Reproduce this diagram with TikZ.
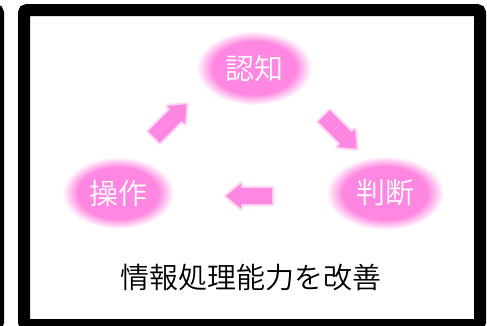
\documentclass[tikz,border=0pt]{standalone}
\usepackage{fontspec}
\setmainfont{Noto Sans CJK JP}[UprightFont = * DemiLight]
\usetikzlibrary{shapes.geometric,shapes.arrows}
\definecolor{pinkc}{RGB}{255,135,225}
\pgfdeclareradialshading{pinkblur}{\pgfpoint{0bp}{0bp}}{color(0bp)=(pinkc); color(18bp)=(pinkc); color(25bp)=(white); color(50bp)=(white)}
\tikzset{
  frame/.style={draw=black, line width=12pt, rounded corners=3pt},
  bubble/.style={ellipse, shading=pinkblur, inner sep=0pt, text=white, font=\fontsize{29}{31}\selectfont},
  blockarrow/.style={single arrow, fill=pinkc, draw=pinkc, draw opacity=0.35, line width=4pt, line join=round,
    inner xsep=0pt, inner ysep=6pt, single arrow head extend=4.5pt, single arrow tip angle=80, minimum height=46pt},
  caption/.style={text=black, font=\fontsize{29}{31}\selectfont, inner sep=0pt}
}
\begin{document}
\begin{tikzpicture}[x=1pt,y=-1pt]
\useasboundingbox (0,0) rectangle (487,325);
\clip (0,0) rectangle (487,325);
\fill[white] (0,0) rectangle (487,325);
% previous panel (right edge)
\draw[frame] (-500,10) rectangle (-2,325);
% main panel
\draw[frame] (24,10) rectangle (480,325);
% bubbles
\node[bubble, minimum width=116pt, minimum height=74pt] (ninchi) at (254,68) {認知};
\node[bubble, minimum width=112pt, minimum height=72pt] (sousa) at (118,193) {操作};
\node[bubble, minimum width=118pt, minimum height=74pt] (handan) at (385,193) {判断};
% arrows
\node[blockarrow, rotate=45] (a1) at (167,124) {};
\node[blockarrow, rotate=-45] (a2) at (337,129) {};
\node[blockarrow, rotate=180] (a3) at (254,196) {};
% caption
\node[caption] (cap) at (251,278) {情報処理能力を改善};
\end{tikzpicture}
\end{document}
